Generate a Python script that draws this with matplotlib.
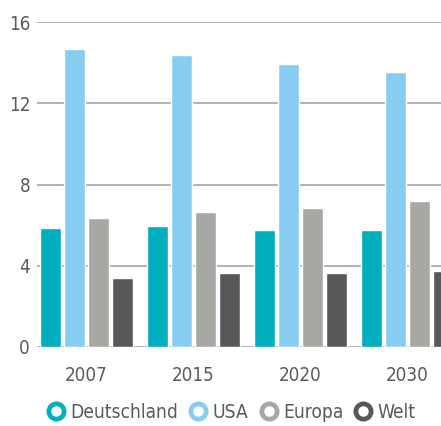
import numpy as np
import matplotlib
matplotlib.use('Agg')
import matplotlib.pyplot as plt
from matplotlib.lines import Line2D

plt.rcParams['font.family'] = ['DejaVu Sans']
plt.rcParams['font.stretch'] = 'condensed'

years = ['2007', '2015', '2020', '2030']
series = ['Deutschland', 'USA', 'Europa', 'Welt']
deutschland = [5.85, 5.95, 5.75, 5.75]
usa = [14.65, 14.4, 13.95, 13.55]
europa = [6.35, 6.65, 6.85, 7.2]
welt = [3.4, 3.65, 3.65, 3.75]
colors = ['#00aebd', '#87cdf1', '#a7a7a3', '#58585a']

text_color = '#5a5a5a'

fig = plt.figure(figsize=(4.41, 4.26), dpi=100)
ax = fig.add_axes([37 / 441, 79 / 426, 1 - 37 / 441, 325 / 426])

x = np.arange(len(years))
offsets = np.array([-36, -12, 12, 36]) / 107
width = 21 / 107
for vals, off, c in zip([deutschland, usa, europa, welt], offsets, colors):
    ax.bar(x + off, vals, width, color=c, edgecolor='white', linewidth=1.0, zorder=3)

ax.set_ylim(0, 16)
ax.set_xlim(-49 / 107, (441 - 86) / 107)
ax.set_yticks([0, 4, 8, 12, 16])
ax.set_xticks(x)
ax.set_xticklabels(years)
ax.yaxis.grid(True, color='#aaaaaa', linewidth=1.3, zorder=0)
ax.set_axisbelow(True)
for s in ax.spines.values():
    s.set_visible(False)
ax.tick_params(length=0, labelsize=13.5, colors=text_color, pad=0)
ax.tick_params(axis='y', pad=5)
ax.tick_params(axis='x', pad=14)

handles = [Line2D([], [], marker='o', linestyle='', markersize=11,
                  markerfacecolor='white', markeredgecolor=c, markeredgewidth=3.4)
           for c in colors]
leg = fig.legend(handles, series, loc='center', bbox_to_anchor=(0.525, 0.032), ncol=4,
                 frameon=False, fontsize=13.8, handlelength=0.9, handletextpad=0.3,
                 columnspacing=0.6, labelcolor=text_color)

fig.savefig('out.png', dpi=100)
